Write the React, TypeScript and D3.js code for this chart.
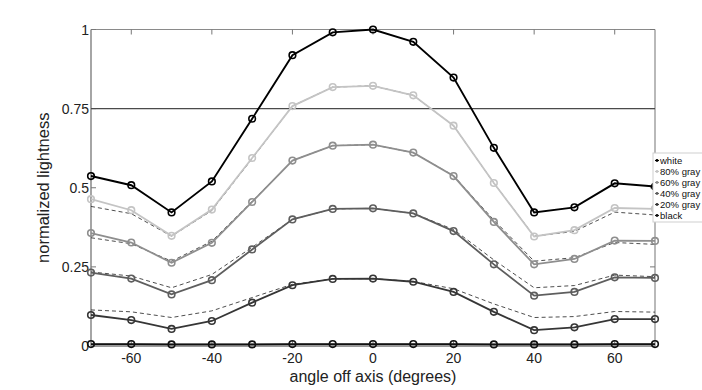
import React from "react";
import * as d3 from "d3";

const angles = [-70, -60, -50, -40, -30, -20, -10, 0, 10, 20, 30, 40, 50, 60, 70];

const whiteVals = [0.537, 0.508, 0.422, 0.520, 0.718, 0.919, 0.991, 1.0, 0.961, 0.848, 0.626, 0.422, 0.438, 0.514, 0.504];
const gray80Vals = [0.464, 0.429, 0.348, 0.431, 0.594, 0.758, 0.818, 0.822, 0.792, 0.696, 0.515, 0.346, 0.366, 0.436, 0.433];
const gray60Vals = [0.357, 0.327, 0.263, 0.326, 0.455, 0.586, 0.633, 0.636, 0.611, 0.537, 0.392, 0.258, 0.275, 0.333, 0.332];
const gray40Vals = [0.232, 0.213, 0.163, 0.208, 0.305, 0.400, 0.433, 0.435, 0.419, 0.363, 0.258, 0.159, 0.171, 0.217, 0.215];
const gray20Vals = [0.098, 0.082, 0.054, 0.079, 0.137, 0.192, 0.212, 0.213, 0.203, 0.171, 0.108, 0.050, 0.059, 0.085, 0.085];
const blackVals = [0.006, 0.006, 0.005, 0.005, 0.005, 0.006, 0.006, 0.006, 0.006, 0.006, 0.005, 0.005, 0.005, 0.006, 0.006];

const target80 = [0.441, 0.418, 0.347, 0.428, 0.592, 0.758, 0.818, 0.822, 0.792, 0.696, 0.515, 0.347, 0.362, 0.423, 0.414];
const target60 = [0.342, 0.323, 0.268, 0.331, 0.457, 0.586, 0.633, 0.636, 0.611, 0.538, 0.398, 0.268, 0.279, 0.327, 0.321];
const target40 = [0.234, 0.221, 0.184, 0.226, 0.312, 0.400, 0.433, 0.435, 0.419, 0.368, 0.272, 0.184, 0.191, 0.224, 0.219];
const target20 = [0.114, 0.108, 0.090, 0.111, 0.153, 0.195, 0.212, 0.213, 0.204, 0.181, 0.133, 0.090, 0.093, 0.109, 0.107];
const targetBlack = [0.002, 0.002, 0.002, 0.002, 0.002, 0.002, 0.002, 0.002, 0.002, 0.002, 0.002, 0.002, 0.002, 0.002, 0.002];

const xTicks = [-60, -40, -20, 0, 20, 40, 60];
const yTicks = [0, 0.25, 0.5, 0.75, 1];
const yTickLabels = ["0", "0.25", "0.5", "0.75", "1"];
const referenceLevel = 0.75;

const seriesNames = ["white", "80% gray", "60% gray", "40% gray", "20% gray", "black"];
const seriesValues = [whiteVals, gray80Vals, gray60Vals, gray40Vals, gray20Vals, blackVals];
const seriesColors = ["#000000", "#c4c4c4", "#8e8e8e", "#5e5e5e", "#363636", "#111111"];
const targets = [target80, target60, target40, target20];

const W = 702;
const H = 390;
const left = 91;
const right = 655;
const top = 29.5;
const bottom = 346;

export default function App() {
  const x = d3.scaleLinear().domain([-70, 70]).range([left, right]);
  const y = d3.scaleLinear().domain([0, 1]).range([bottom, top]);
  const line = d3
    .line<number>()
    .x((_, i) => x(angles[i]))
    .y((v) => y(v));

  const font = "'Liberation Sans', Arial, Helvetica, sans-serif";

  return (
    <svg
      width={W}
      height={H}
      style={{ position: "absolute", left: 0, top: 0, background: "#fff" }}
      fontFamily={font}
    >
      <rect x={0} y={0} width={W} height={H} fill="#fff" />
      {/* box */}
      <line x1={left} x2={right} y1={top} y2={top} stroke="#8a8a8a" strokeWidth={1} />
      <line x1={right} x2={right} y1={top} y2={bottom} stroke="#8a8a8a" strokeWidth={1.2} />
      <line x1={left} x2={left} y1={top} y2={bottom} stroke="#6a6a6a" strokeWidth={1.2} />
      <line x1={left} x2={right} y1={bottom} y2={bottom} stroke="#8a8a8a" strokeWidth={1} />
      {/* ticks */}
      {xTicks.map((t) => (
        <g key={"xt" + t}>
          <line x1={x(t)} x2={x(t)} y1={top} y2={top + 5} stroke="#777" />
          <line x1={x(t)} x2={x(t)} y1={bottom} y2={bottom - 5} stroke="#777" />
          <text x={x(t)} y={bottom + 17} fontSize={14} textAnchor="middle" fill="#222">
            {t}
          </text>
        </g>
      ))}
      {yTicks.map((t, i) => (
        <g key={"yt" + t}>
          <line x1={left} x2={left + 5} y1={y(t)} y2={y(t)} stroke="#777" />
          <line x1={right} x2={right - 5} y1={y(t)} y2={y(t)} stroke="#777" />
          <text x={left - 2} y={y(t) + 5} fontSize={14} textAnchor="end" fill="#222">
            {yTickLabels[i]}
          </text>
        </g>
      ))}
      {/* reference line */}
      <line
        x1={left}
        x2={right}
        y1={y(referenceLevel)}
        y2={y(referenceLevel)}
        stroke="#4a4a4a"
        strokeWidth={1.4}
      />
      {/* black target band */}
      <path d={line(targetBlack) || ""} fill="none" stroke="#9a9a9a" strokeWidth={3.5} />
      {/* dashed targets */}
      {targets.map((vals, ti) => (
        <path
          key={"t" + ti}
          d={line(vals) || ""}
          fill="none"
          stroke="#3a3a3a"
          strokeWidth={0.9}
          strokeDasharray="4,3"
        />
      ))}
      {/* solid series */}
      {seriesValues.map((vals, si) => (
        <g key={"s" + si}>
          <path
            d={line(vals) || ""}
            fill="none"
            stroke={seriesColors[si]}
            strokeWidth={si === 0 ? 1.9 : 1.8}
          />
          {vals.map((v, i) => (
            <circle
              key={i}
              cx={x(angles[i])}
              cy={y(v)}
              r={3.3}
              fill="none"
              stroke={seriesColors[si]}
              strokeWidth={1.6}
            />
          ))}
        </g>
      ))}
      {/* legend */}
      <rect x={653} y={153} width={52} height={69} fill="#fff" stroke="#cfcfcf" strokeWidth={1} />
      {seriesNames.map((name, i) => {
        const ly = 160.5 + i * 11;
        return (
          <g key={"lg" + name}>
            <line x1={655} x2={659} y1={ly} y2={ly} stroke={seriesColors[i]} strokeWidth={1} />
            <circle cx={657} cy={ly} r={1.4} fill={seriesColors[i]} />
            <text x={660} y={ly + 3.5} fontSize={9.5} fill="#111">
              {name}
            </text>
          </g>
        );
      })}
      {/* axis titles */}
      <text x={(left + right) / 2} y={382} fontSize={16} textAnchor="middle" fill="#222">
        angle off axis (degrees)
      </text>
      <text
        transform={`translate(49, ${(top + bottom) / 2}) rotate(-90)`}
        fontSize={16.5}
        textAnchor="middle"
        fill="#222"
      >
        normalized lightness
      </text>
    </svg>
  );
}
